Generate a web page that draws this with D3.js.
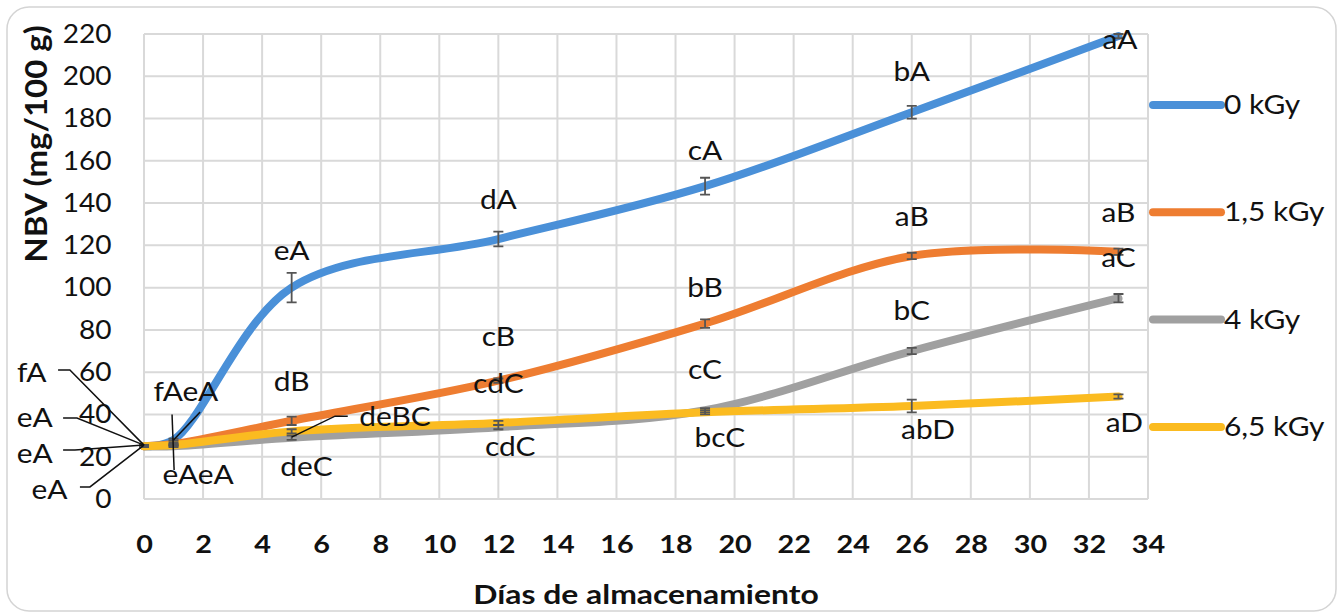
<!DOCTYPE html>
<html>
<head>
<meta charset="utf-8">
<script src="https://cdn.jsdelivr.net/npm/d3@7"></script>
<style>
  body { margin: 0; background: #fff; }
  text { font-family: Lato, "Noto Sans", sans-serif; fill: #111; }
</style>
</head>
<body>
<div id="chart"></div>
<script>
"use strict";

// days of storage
const days = [0, 1, 5, 12, 19, 26, 33];

const series = [
    {name: "0 kGy",   color: "#4a90d8", values: [25, 28, 100, 123, 148, 183, 219],  err: [0.5, 0.5, 7, 3.5, 4, 3, 1]},
    {name: "1,5 kGy", color: "#ee7d31", values: [25, 26, 37, 56, 83, 115, 117],     err: [0.5, 0.5, 2, 1, 2, 1.5, 1.5]},
    {name: "4 kGy",   color: "#a0a0a0", values: [25, 25, 29, 34, 42, 70, 95],       err: [0.5, 0.5, 1, 1, 1, 1.5, 2]},
    {name: "6,5 kGy", color: "#fbbb20", values: [25, 25.5, 32, 36, 41, 44, 48.5],   err: [0.5, 0.5, 1, 1, 1, 3, 1]}
];

const xTicks = d3.range(0, 35, 2);
const yTicks = d3.range(0, 221, 20);

// significance letters, placed in data units (day, value)
const labels = [
    ["fA", -3.8, 60], ["eA", -3.7, 38.3], ["eA", -3.7, 21.7], ["eA", -3.2, 4.3],
    ["fAeA", 1.42, 50.6], ["eAeA", 1.83, 11.3],
    ["eA", 5, 117.7], ["dA", 12, 141.8], ["cA", 19, 165], ["bA", 26, 202], ["aA", 33.05, 217.5],
    ["aB", 26, 133.8], ["aB", 33, 135.7], ["aC", 33, 114],
    ["bB", 19, 99.8], ["bC", 26, 89], ["cB", 12, 76.6], ["dB", 5, 55.3],
    ["cdC", 12, 54.8], ["cC", 19, 61], ["deBC", 8.5, 38.8], ["deC", 5.5, 15.1],
    ["cdC", 12.4, 24.6], ["bcC", 19.5, 28.8], ["abD", 26.55, 32.6], ["aD", 33.2, 35.9]
];

// leader lines for the crowded labels
const leaders = [
    [[-2.91, 61], [-2.51, 61], [0, 25.5]],
    [[-2.74, 38.3], [-2.27, 38.3], [0, 25.5]],
    [[-2.74, 23.2], [-2.34, 23.2], [0, 25.5]],
    [[-2.17, 5.7], [-1.83, 5.7], [0, 25.5]],
    [[0.95, 40], [1.02, 13.7]],
    [[1, 27.9], [1.9, 41.1]],
    [[5, 29.3], [6.47, 39.2], [6.9, 39.2]]
];

const width = 1343;
const height = 616;
const margin = ({top: 34, right: 195, bottom: 117, left: 144});
const sx = 1.15;  // horizontal text stretch

const x = d3.scaleLinear()
    .domain([0, 34])
    .range([margin.left, width - margin.right]);

const y = d3.scaleLinear()
    .domain([0, 220])
    .range([height - margin.bottom, margin.top]);

const svg = d3.select("#chart").append("svg")
    .attr("width", width)
    .attr("height", height);

svg.append("rect")
    .attr("x", 7).attr("y", 7)
    .attr("width", width - 14).attr("height", height - 12)
    .attr("rx", 22)
    .attr("fill", "#fff")
    .attr("stroke", "#d4d4d4")
    .attr("stroke-width", 1.5);

// grid
const grid = svg.append("g")
    .attr("stroke", "#d9d9d9")
    .attr("stroke-width", 2);

grid.selectAll("line.v")
    .data(xTicks)
    .join("line")
        .attr("class", "v")
        .attr("x1", d => x(d)).attr("x2", d => x(d))
        .attr("y1", y(0)).attr("y2", y(220));

grid.selectAll("line.h")
    .data(yTicks)
    .join("line")
        .attr("class", "h")
        .attr("x1", x(0)).attr("x2", x(34))
        .attr("y1", d => y(d)).attr("y2", d => y(d));

// axes
const xAxis = g => g
    .attr("transform", `translate(0,${y(0)})`)
    .call(d3.axisBottom(x).tickValues(xTicks).tickSize(0).tickPadding(36))
    .call(g => g.select(".domain").remove())
    .call(g => g.selectAll("text")
        .attr("font-size", 25)
        .attr("font-weight", 700)
        .attr("fill", "#111")
        .attr("transform", `scale(${sx},1)`));

const yAxis = g => g
    .attr("transform", `translate(${margin.left},0)`)
    .call(d3.axisLeft(y).tickValues(yTicks).tickSize(0).tickPadding(30))
    .call(g => g.select(".domain").remove())
    .call(g => g.selectAll("text")
        .attr("font-size", 26)
        .attr("fill", "#111")
        .attr("transform", `scale(1.08,1)`));

svg.append("g").call(xAxis);
svg.append("g").call(yAxis);

svg.append("text")
    .attr("transform", `translate(${x(17)},604) scale(1.18,1)`)
    .attr("text-anchor", "middle")
    .attr("font-size", 27)
    .attr("font-weight", 700)
    .text("Días de almacenamiento");

svg.append("text")
    .attr("transform", `translate(47,144) rotate(-90) scale(1.1,1)`)
    .attr("text-anchor", "middle")
    .attr("font-size", 30)
    .attr("font-weight", 700)
    .text("NBV (mg/100 g)");

// lines
const line = d3.line()
    .curve(d3.curveCatmullRom.alpha(0.5))
    .x((d, i) => x(days[i]))
    .y(d => y(d));

svg.append("g")
    .attr("fill", "none")
    .attr("stroke-width", 8)
    .attr("stroke-linecap", "round")
    .attr("stroke-linejoin", "round")
  .selectAll("path")
  .data(series)
  .join("path")
    .attr("stroke", d => d.color)
    .attr("d", d => line(d.values));

// error bars
const bars = series.flatMap(s => s.values.map((v, i) => ({d: days[i], lo: v - s.err[i], hi: v + s.err[i]})));

const eb = svg.append("g")
    .attr("stroke", "#555")
    .attr("stroke-width", 1.8);

eb.selectAll("path")
    .data(bars)
    .join("path")
        .attr("fill", "none")
        .attr("d", b => {
            const cx = x(b.d), y1 = y(b.hi), y2 = y(b.lo);
            return `M${cx - 5},${y1}H${cx + 5}M${cx},${y1}V${y2}M${cx - 5},${y2}H${cx + 5}`;
        });

// leaders
svg.append("g")
    .attr("fill", "none")
    .attr("stroke", "#111")
    .attr("stroke-width", 1.5)
  .selectAll("path")
  .data(leaders)
  .join("path")
    .attr("d", d3.line().x(p => x(p[0])).y(p => y(p[1])));

// letters
svg.append("g")
  .selectAll("text")
  .data(labels)
  .join("text")
    .attr("transform", d => `translate(${x(d[1])},${y(d[2])}) scale(${sx},1)`)
    .attr("text-anchor", "middle")
    .attr("dy", "0.36em")
    .attr("font-size", 26)
    .text(d => d[0]);

// legend
const legend = svg.append("g")
  .selectAll("g")
  .data(series)
  .join("g")
    .attr("transform", (d, i) => `translate(1153,${105 + i * 107.3})`);

legend.append("line")
    .attr("x2", 68)
    .attr("stroke", d => d.color)
    .attr("stroke-width", 8)
    .attr("stroke-linecap", "round");

legend.append("text")
    .attr("transform", `translate(71,9) scale(${sx},1)`)
    .attr("font-size", 26)
    .text(d => d.name);
</script>
</body>
</html>
